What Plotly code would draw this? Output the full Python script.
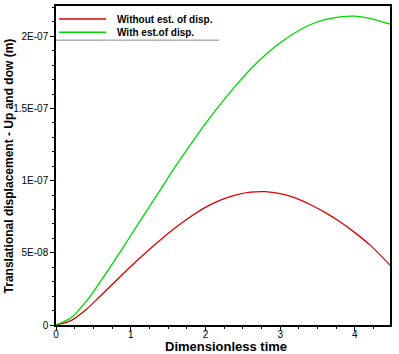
import plotly.graph_objects as go

# dimensionless time
t = [0, 0.2, 0.4, 0.6, 0.8, 1.0, 1.2, 1.4, 1.6, 1.8, 2.0, 2.2, 2.4,
     2.6, 2.8, 3.0, 3.2, 3.4, 3.6, 3.8, 4.0, 4.2, 4.47]

# displacement (units of 1e-9 m)
without_est = [0, 3, 10.5, 20.5, 30.5, 40.5, 50, 59, 67.5, 75, 81.5, 86.5, 90,
               92, 92.4, 91, 88, 83.5, 78, 71.5, 64, 55.5, 41.5]
with_est = [0, 5, 16, 30.5, 46, 62, 78, 94, 110, 125, 139.5, 153, 165.5,
            177, 187, 195.5, 202.5, 208, 211.5, 213.5, 214, 212.5, 208.5]

series_names = ["Without est. of disp.", "With est.of disp."]
y_tick_vals = [0, 5e-8, 1e-7, 1.5e-7, 2e-7]
y_tick_text = ["0", "5E-08", "1E-07", "1.5E-07", "2E-07"]

red = "rgb(220,0,0)"
green = "rgb(0,215,0)"
font_name = "Liberation Sans, Arial"

fig = go.Figure()
fig.add_trace(go.Scatter(x=t, y=[v * 1e-9 for v in without_est], mode="lines",
                         line=dict(color=red, width=1.3, shape="spline", smoothing=0.8),
                         name=series_names[0], showlegend=False))
fig.add_trace(go.Scatter(x=t, y=[v * 1e-9 for v in with_est], mode="lines",
                         line=dict(color=green, width=1.3, shape="spline", smoothing=0.8),
                         name=series_names[1], showlegend=False))

# hand-drawn legend like the original
for yy, col, name in [(0.959, red, series_names[0]), (0.918, green, series_names[1])]:
    fig.add_shape(type="line", xref="paper", yref="paper",
                  x0=0.009, x1=0.150, y0=yy, y1=yy, line=dict(color=col, width=1.5))
    fig.add_annotation(xref="paper", yref="paper", x=0.177, y=yy, text="<b>" + name + "</b>",
                       showarrow=False, xanchor="left", yanchor="middle",
                       font=dict(family=font_name, size=10, color="black"))
fig.add_shape(type="line", xref="paper", yref="paper", x0=0, x1=0.488, y0=0.893, y1=0.893,
              line=dict(color="#888888", width=1))

# axis titles
fig.add_annotation(xref="paper", yref="paper", x=0.51, y=-0.067, text="<b>Dimensionless time</b>",
                   showarrow=False, xanchor="center", yanchor="middle",
                   font=dict(family=font_name, size=13, color="black"))
fig.add_annotation(xref="paper", yref="paper", x=-0.141, y=0.5, textangle=-90,
                   text="<b>Translational displacement - Up and dow (m)</b>",
                   showarrow=False, xanchor="center", yanchor="middle",
                   font=dict(family=font_name, size=12, color="black"))

axis_common = dict(showline=True, linecolor="black", linewidth=1.5, mirror=True,
                   showgrid=False, zeroline=False, ticks="outside", ticklen=4,
                   tickcolor="black", automargin=False,
                   tickfont=dict(family=font_name, size=10, color="black"))

fig.update_xaxes(range=[0, 4.47], tickvals=[0, 1, 2, 3, 4], ticklabelstandoff=-5,
                 minor=dict(dtick=0.25, ticks="outside", ticklen=2, tickcolor="black"),
                 **axis_common)
fig.update_yaxes(range=[0, 2.21e-7], tickvals=y_tick_vals, ticktext=y_tick_text,
                 minor=dict(dtick=1e-8, ticks="outside", ticklen=2, tickcolor="black"),
                 **axis_common)

fig.update_layout(width=399, height=354, margin=dict(l=56, r=9, t=6, b=29),
                  plot_bgcolor="white", paper_bgcolor="white")

# drop the default page margin so the figure sits at the window's corner
fig.write_html("out.html", config={"displayModeBar": False},
               post_script="document.body.style.margin='0';")
